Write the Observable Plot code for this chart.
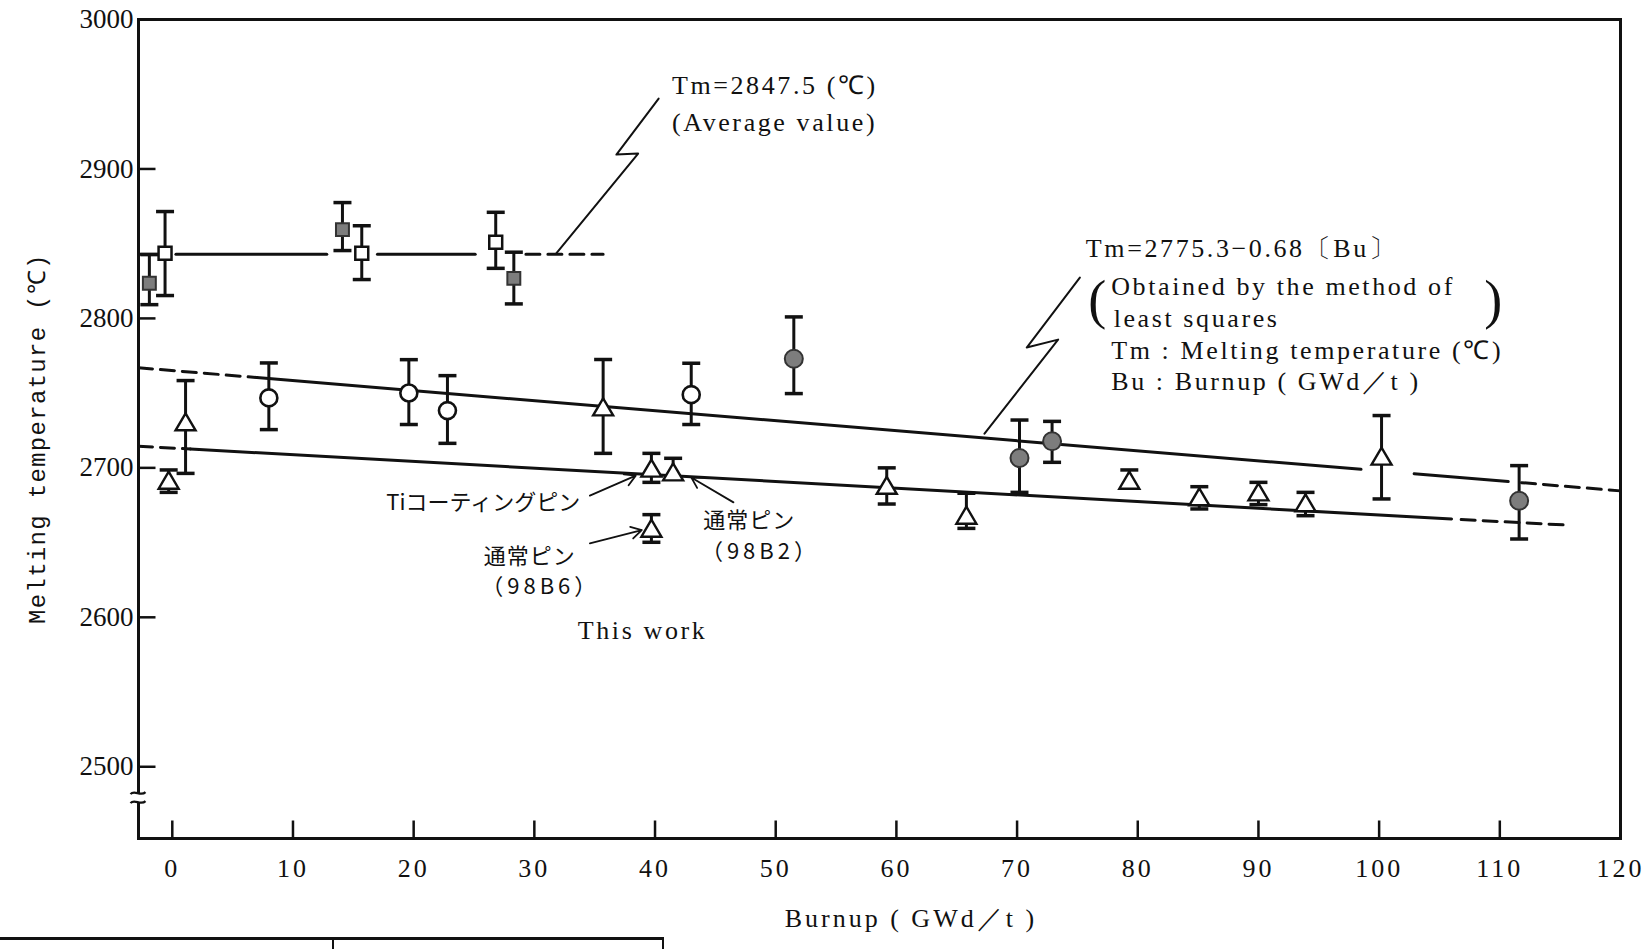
<!DOCTYPE html>
<html><head><meta charset="utf-8">
<script src="https://cdn.jsdelivr.net/npm/d3@7"></script>
<script src="https://cdn.jsdelivr.net/npm/@observablehq/plot@0.6"></script>
<style>
html,body{margin:0;padding:0;background:#fff;overflow:hidden}
#wrap{position:relative;width:1647px;height:949px}
#tbl{position:absolute;left:0;top:937px;width:664px;height:40px;border-top:3px solid #111;border-right:2px solid #111;box-sizing:border-box}
#tbl .sep{position:absolute;left:332px;top:0;height:40px;border-left:2px solid #111}
</style></head>
<body><div id="wrap"><div id="chart"></div><div id="tbl"><div class="sep"></div></div></div>
<script>
// ---- data: burnup (GWd/t), melting temperature (°C), error bar low/high ----
const grayS = [
  {x:-1.9, y:2823.5, lo:2809.2, hi:2842.7},
  {x:14.1, y:2859.4, lo:2845.4, hi:2877.5},
  {x:28.3, y:2826.8, lo:2809.7, hi:2844.3}
];
const openS = [
  {x:-0.6, y:2843.6, lo:2815.3, hi:2871.5},
  {x:15.7, y:2843.6, lo:2826.0, hi:2862.0},
  {x:26.8, y:2851.0, lo:2833.5, hi:2871.0}
];
const openC = [
  {x:8.0,  y:2746.8, lo:2725.6, hi:2770.2},
  {x:19.6, y:2750.1, lo:2729.0, hi:2772.4},
  {x:22.8, y:2738.3, lo:2716.4, hi:2761.7},
  {x:43.0, y:2749.0, lo:2729.0, hi:2770.0}
];
const grayC = [
  {x:51.5,  y:2773.0, lo:2749.7, hi:2801.0},
  {x:70.2,  y:2706.6, lo:2683.6, hi:2732.0},
  {x:72.9,  y:2717.8, lo:2703.7, hi:2731.1},
  {x:111.6, y:2678.0, lo:2652.4, hi:2701.5}
];
const tri = [
  {x:-0.3,  y:2691.4, lo:2683.6, hi:2698.6},
  {x:1.1,   y:2730.5, lo:2696.3, hi:2758.4},
  {x:35.7,  y:2740.5, lo:2709.7, hi:2772.5},
  {x:39.7,  y:2699.5, lo:2690.3, hi:2709.7},
  {x:41.5,  y:2697.0, lo:null,   hi:2706.4},
  {x:39.7,  y:2659.3, lo:2650.2, hi:2668.7},
  {x:59.2,  y:2688.0, lo:2675.8, hi:2700.0},
  {x:65.8,  y:2668.0, lo:2659.5, hi:2683.0},
  {x:79.3,  y:2691.4, lo:null,   hi:2698.6},
  {x:85.1,  y:2680.3, lo:2672.5, hi:2687.4},
  {x:90.0,  y:2683.6, lo:2675.4, hi:2690.3},
  {x:93.9,  y:2676.3, lo:2668.0, hi:2683.6},
  {x:100.2, y:2707.5, lo:2679.2, hi:2735.0}
];
// fitted lines (segment end points; s = segment id)
const avgSolid  = [{s:0,x:-2.8,y:2843},{s:0,x:-0.6,y:2843},{s:1,x:0.3,y:2843},{s:1,x:12.8,y:2843},{s:2,x:17.0,y:2843},{s:2,x:25.1,y:2843}];
const avgDash   = [{s:0,x:29.3,y:2843},{s:0,x:35.7,y:2843}];
const upSolid   = [{s:0,x:7.0,y:2760.4},{s:0,x:98.5,y:2699.0},{s:1,x:102.9,y:2696.1},{s:1,x:110.7,y:2690.8}];
const upDash    = [{s:0,x:-2.8,y:2767.0},{s:0,x:7.0,y:2760.4},{s:1,x:111.8,y:2690.1},{s:1,x:120.0,y:2684.6}];
const lowSolid  = [{s:0,x:1.5,y:2712.6},{s:0,x:106.0,y:2665.8}];
const lowDash   = [{s:0,x:-2.8,y:2714.5},{s:0,x:1.5,y:2712.6},{s:1,x:106.8,y:2665.4},{s:1,x:115.6,y:2661.7}];
// leader lines
const leaderAvg = [{x:31.8, y:2843.4}, {x:38.6, y:2910.3}, {x:36.8, y:2909.6}, {x:40.3, y:2947.1}];
const leaderFit = [{x:67.3, y:2722.9}, {x:73.4, y:2785.8}, {x:70.8, y:2780.5}, {x:75.2, y:2827.3}];
const arrows = [
  {x1:34.6, y1:2681.4, x2:38.4, y2:2694.8},
  {x1:34.6, y1:2649.5, x2:38.9, y2:2658.4},
  {x1:46.5, y1:2676.9, x2:43.0, y2:2693.6}
];
// texts
const latinNotes = [
  {x:41.4, y:2955.8, t:"Tm=2847.5 (℃)"},
  {x:41.4, y:2931.3, t:"(Average value)"},
  {x:75.7, y:2846.6, t:"Tm=2775.3−0.68〔Bu〕"},
  {x:77.8, y:2820.9, t:"Obtained by the method of"},
  {x:78.0, y:2799.7, t:"least squares"},
  {x:77.8, y:2778.5, t:"Tm : Melting temperature (℃)"},
  {x:77.8, y:2758.0, t:"Bu : Burnup ( GWd／t )"},
  {x:33.6, y:2591.2, t:"This work"}
];
const parens = [{x:75.9, y:2812, t:"("}, {x:108.7, y:2812, t:")"}];
const jpStart = [
  {x:25.8, y:2640.2, t:"通常ピン"},
  {x:44.0, y:2664.8, t:"通常ピン"}
];
const jpCodes = [
  {x:25.6, y:2620.2, t:"（98B6）"},
  {x:43.8, y:2643.6, t:"（98B2）"}
];
const jpEnd = [{x:33.8, y:2676.2, t:"Tiコーティングピン"}];
const xTicks = [0,10,20,30,40,50,60,70,80,90,100,110,120];
const yTicks = [2500,2600,2700,2800,2900,3000];
const xDomain = [-2.8, 120];
const yDomain = [2452, 3000];
const xLabel = "Burnup ( GWd／t )";
const yLabel = "Melting temperature (℃)";
const yBreak = 2479;

const all = [...grayS, ...openS, ...openC, ...grayC, ...tri];
const capSym = {draw(c){ c.moveTo(-9,0); c.lineTo(9,0); }};
const xTickSym = {draw(c){ c.moveTo(0,0); c.lineTo(0,-18); }};
const yTickSym = {draw(c){ c.moveTo(0,0); c.lineTo(17,0); }};
const triSym = {draw(c){ c.moveTo(0,-9); c.lineTo(10,8); c.lineTo(-10,8); c.closePath(); }};
const breakSym = {draw(c){
  c.moveTo(-8,-4); c.bezierCurveTo(-4,-9, 2,-1, 7,-6);
  c.moveTo(-8,5); c.bezierCurveTo(-4,0, 2,8, 7,3);
}};
const K = "#111";
const serif = "Liberation Serif";

const plot = Plot.plot({
  width: 1647, height: 949,
  marginLeft: 138, marginRight: 27, marginTop: 19, marginBottom: 111,
  x: {domain: xDomain},
  y: {domain: yDomain},
  style: {background: "white", color: "#111"},
  marks: [
    Plot.line(avgSolid, {x:"x", y:"y", z:"s", stroke:K, strokeWidth:3}),
    Plot.line(avgDash, {x:"x", y:"y", z:"s", stroke:K, strokeWidth:3, strokeDasharray:"14,8"}),
    Plot.line(upSolid, {x:"x", y:"y", z:"s", stroke:K, strokeWidth:3}),
    Plot.line(upDash, {x:"x", y:"y", z:"s", stroke:K, strokeWidth:3, strokeDasharray:"14,8"}),
    Plot.line(lowSolid, {x:"x", y:"y", z:"s", stroke:K, strokeWidth:3}),
    Plot.line(lowDash, {x:"x", y:"y", z:"s", stroke:K, strokeWidth:3, strokeDasharray:"14,8"}),
    Plot.line(leaderAvg, {x:"x", y:"y", stroke:K, strokeWidth:2}),
    Plot.line(leaderFit, {x:"x", y:"y", stroke:K, strokeWidth:2}),
    Plot.arrow(arrows, {x1:"x1", y1:"y1", x2:"x2", y2:"y2", stroke:K, strokeWidth:1.8, headLength:10}),
    Plot.ruleX(all, {x:"x", y1:d => d.lo ?? d.y, y2:d => d.hi ?? d.y, stroke:K, strokeWidth:3}),
    Plot.dot(openS, {x:"x", y:"y", symbol:"square", r:7.3, fill:"white", stroke:K, strokeWidth:2.5}),
    Plot.dot(grayS, {x:"x", y:"y", symbol:"square", r:7.3, fill:"#7d7d7d", stroke:"#333", strokeWidth:2}),
    Plot.dot(openC, {x:"x", y:"y", r:8.5, fill:"white", stroke:K, strokeWidth:2.6}),
    Plot.dot(grayC, {x:"x", y:"y", r:9, fill:"#7d7d7d", stroke:"#333", strokeWidth:2}),
    Plot.dot(tri, {x:"x", y:"y", symbol:triSym, fill:"white", stroke:K, strokeWidth:2.4}),
    Plot.dot(all.filter(d => d.hi != null), {x:"x", y:"hi", symbol:capSym, stroke:K, strokeWidth:3.5, fill:"none"}),
    Plot.dot(all.filter(d => d.lo != null), {x:"x", y:"lo", symbol:capSym, stroke:K, strokeWidth:3.5, fill:"none"}),
    // text
    Plot.text(latinNotes, {x:"x", y:"y", text:"t", textAnchor:"start", fontFamily:serif, fontSize:26, fill:K, ariaDescription:"ls:2.6"}),
    Plot.text(parens, {x:"x", y:"y", text:"t", textAnchor:"start", fontFamily:serif, fontSize:54, fill:K}),
    Plot.text(jpStart, {x:"x", y:"y", text:"t", textAnchor:"start", fontFamily:"Noto Sans CJK JP", fontSize:22, fill:K, ariaDescription:"ls:1"}),
    Plot.text(jpCodes, {x:"x", y:"y", text:"t", textAnchor:"start", fontFamily:"Noto Sans CJK JP", fontSize:22, fill:K, ariaDescription:"ls:4"}),
    Plot.text(jpEnd, {x:"x", y:"y", text:"t", textAnchor:"end", fontFamily:"Noto Sans CJK JP", fontSize:22, fill:K}),
    // axes
    Plot.frame({stroke:K, strokeWidth:3}),
    Plot.dot(xTicks, {x:d => d, y:yDomain[0], symbol:xTickSym, stroke:K, strokeWidth:2.5, fill:"none"}),
    Plot.dot(yTicks, {x:xDomain[0], y:d => d, symbol:yTickSym, stroke:K, strokeWidth:2.5, fill:"none"}),
    Plot.dot([yBreak], {x:xDomain[0], y:d => d, symbol:"square", r:5.5, fill:"white"}),
    Plot.dot([yBreak], {x:xDomain[0], y:d => d, symbol:breakSym, stroke:K, strokeWidth:2.2, fill:"none"}),
    Plot.axisX({ticks:xTicks, tickSize:0, tickPadding:20, fontSize:26, fontFamily:serif, label:null, tickFormat:d => String(d), ariaDescription:"ls:3"}),
    Plot.axisY({ticks:yTicks, tickSize:0, tickPadding:5, fontSize:27, fontFamily:serif, label:null, tickFormat:d => String(d)}),
    Plot.text([xLabel], {x:61.2, frameAnchor:"bottom", dy:88, text:d => d, textAnchor:"middle", fontFamily:serif, fontSize:26, fill:K, ariaDescription:"ls:3"}),
    Plot.text([yLabel], {y:2719.6, frameAnchor:"left", dx:-101, rotate:-90, textAnchor:"middle", text:d => d, fontFamily:"Liberation Mono", fontSize:24, fill:K, ariaDescription:"ls:1.3"})
  ]
});
plot.querySelectorAll("g[aria-description]").forEach(g => {
  const m = /^ls:([\d.]+)$/.exec(g.getAttribute("aria-description") || "");
  if (m) g.style.letterSpacing = m[1] + "px";
});
document.getElementById("chart").appendChild(plot);
</script>
</body></html>
